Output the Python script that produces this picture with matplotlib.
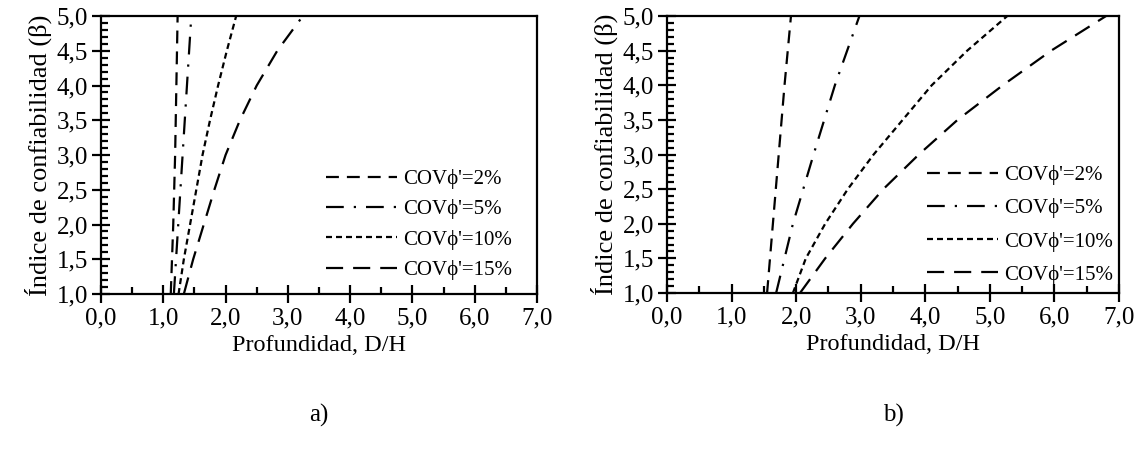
import matplotlib
matplotlib.use("Agg")
import matplotlib.pyplot as plt
from matplotlib.ticker import MultipleLocator, FuncFormatter

plt.rcParams['font.family'] = ['Liberation Serif', 'DejaVu Serif']

labels = ["COVϕ'=2%", "COVϕ'=5%", "COVϕ'=10%", "COVϕ'=15%"]

# Panel a)
a_beta_2 = [1.0, 2.0, 3.0, 4.0, 5.0]
a_x_2 = [1.12, 1.16, 1.19, 1.21, 1.23]
a_beta_5 = [1.0, 2.0, 3.0, 4.0, 5.0]
a_x_5 = [1.17, 1.24, 1.31, 1.38, 1.45]
a_beta_10 = [1.0, 1.5, 2.0, 2.5, 3.0, 3.5, 4.0, 4.5, 5.0]
a_x_10 = [1.245, 1.33, 1.43, 1.53, 1.63, 1.75, 1.88, 2.02, 2.17]
a_beta_15 = [1.0, 1.5, 2.0, 2.5, 3.0, 3.5, 4.0, 4.5, 4.95]
a_x_15 = [1.33, 1.48, 1.65, 1.82, 2.0, 2.23, 2.50, 2.83, 3.2]

# Panel b)
b_beta_2 = [1.0, 2.0, 3.0, 4.0, 5.0]
b_x_2 = [1.55, 1.64, 1.73, 1.82, 1.92]
b_beta_5 = [1.0, 2.0, 3.0, 4.0, 5.0]
b_x_5 = [1.69, 1.95, 2.27, 2.6, 2.98]
b_beta_10 = [1.0, 1.5, 2.0, 2.5, 3.0, 3.5, 4.0, 4.5, 5.0]
b_x_10 = [1.95, 2.15, 2.45, 2.8, 3.2, 3.65, 4.1, 4.65, 5.27]
b_beta_15 = [1.0, 1.5, 2.0, 2.5, 3.0, 3.5, 4.0, 4.5, 5.0]
b_x_15 = [2.06, 2.45, 2.88, 3.35, 3.9, 4.5, 5.2, 5.95, 6.8]

panels = [
    ([(a_x_2, a_beta_2), (a_x_5, a_beta_5), (a_x_10, a_beta_10), (a_x_15, a_beta_15)], "a)"),
    ([(b_x_2, b_beta_2), (b_x_5, b_beta_5), (b_x_10, b_beta_10), (b_x_15, b_beta_15)], "b)"),
]

styles = [
    (0, (5.8, 3.6)),
    (0, (8, 4.5, 1, 4.5)),
    (0, (2.7, 1.8)),
    (0, (7.7, 4.5)),
]

fig = plt.figure(figsize=(11.43, 4.49), dpi=100)
rects = [
    [101/1143, 1-294/449, (537-101)/1143, (294-16)/449],
    [667/1143, 1-293/449, (1119-667)/1143, (293-16)/449],
]
legend_anchor = [(0.943, 0.05), (0.987, 0.03)]
legend_spacing = [0.5, 0.63]

fmt = FuncFormatter(lambda v, p: f"{v:.1f}".replace('.', ','))

for i, ((series, tag), r) in enumerate(zip(panels, rects)):
    ax = fig.add_axes(r)
    for (xs, ys), ls, lab in zip(series, styles, labels):
        ax.plot(xs, ys, color='black', lw=1.6, linestyle=ls, label=lab)
    ax.set_xlim(0, 7)
    ax.set_ylim(1, 5)
    ax.xaxis.set_major_locator(MultipleLocator(1.0))
    ax.xaxis.set_minor_locator(MultipleLocator(0.5))
    ax.yaxis.set_major_locator(MultipleLocator(0.5))
    ax.yaxis.set_minor_locator(MultipleLocator(0.1))
    ax.xaxis.set_major_formatter(fmt)
    ax.yaxis.set_major_formatter(fmt)
    ax.tick_params(which='major', direction='inout', length=13, width=1.6, labelsize=18, pad=3)
    ax.tick_params(which='minor', direction='in', length=5, width=1.6)
    ax.tick_params(top=False, right=False, which='both')
    for s in ax.spines.values():
        s.set_linewidth(1.6)
    ax.set_xlabel("Profundidad, D/H", fontsize=17.5, labelpad=4)
    ax.set_ylabel("Índice de confiabilidad (β)", fontsize=19, labelpad=3)
    ax.legend(loc='lower right', frameon=False, fontsize=15, handlelength=3.4,
              handletextpad=0.3, labelspacing=legend_spacing[i], borderaxespad=0,
              borderpad=0, bbox_to_anchor=legend_anchor[i])
    cx = r[0] + r[2] / 2
    fig.text(cx, 1-415/449, tag, ha='center', va='center', fontsize=18)

fig.savefig("out.png", dpi=100)
